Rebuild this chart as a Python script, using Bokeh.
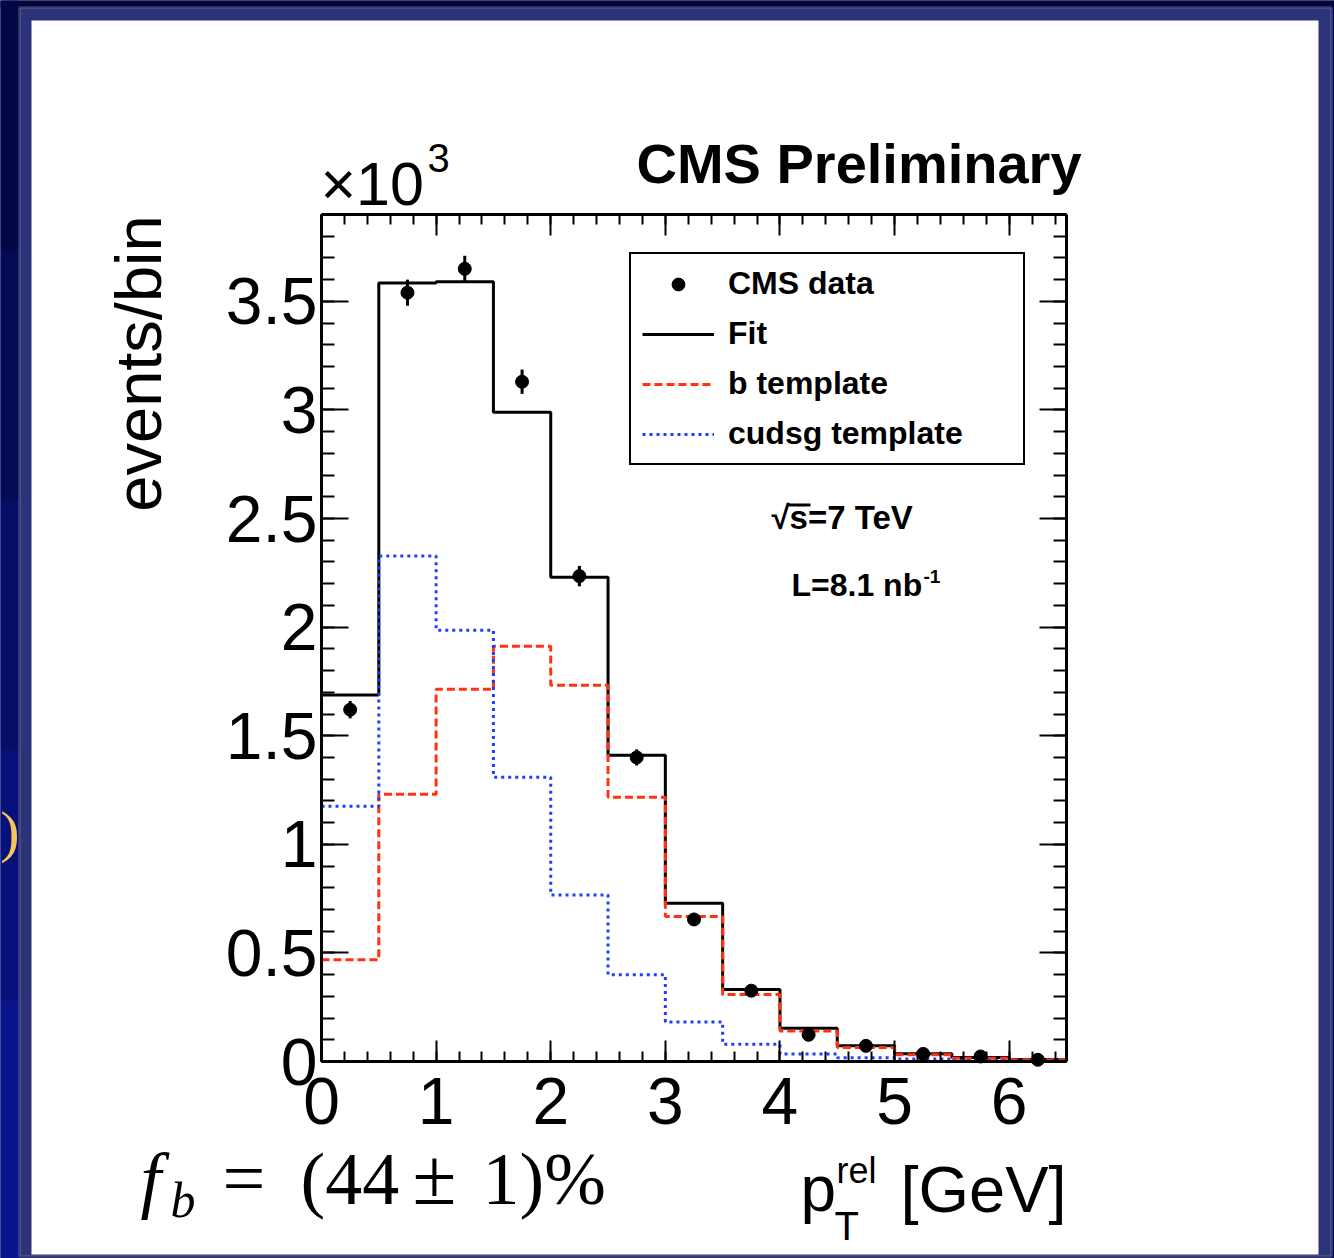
import math
from bokeh.plotting import figure
from bokeh.models import (SingleIntervalTicker, LinearAxis, Label, BoxAnnotation,
                          Legend, LegendItem, CustomJSTickFormatter, Range1d)
from bokeh.embed import file_html
from bokeh.resources import INLINE

# ---------------- data (values in units of 10^3 events / bin) ----------------
bin_lo = [0.0, 0.5, 1.0, 1.5, 2.0, 2.5, 3.0, 3.5, 4.0, 4.5, 5.0, 5.5, 6.0]
bin_width = 0.5
data_y = [1.62, 3.54, 3.65, 3.13, 2.235, 1.40, 0.654, 0.326, 0.123, 0.072, 0.035, 0.023, 0.008]
data_err = [0.040, 0.060, 0.060, 0.056, 0.047, 0.037, 0.026, 0.018, 0.011, 0.008, 0.006, 0.005, 0.003]
fit_y = [1.687, 3.585, 3.59, 2.99, 2.23, 1.41, 0.729, 0.331, 0.153, 0.073, 0.036, 0.018, 0.009]
b_tmpl_y = [0.468, 1.23, 1.714, 1.912, 1.733, 1.217, 0.668, 0.308, 0.141, 0.065, 0.031, 0.015, 0.008]
cudsg_tmpl_y = [1.175, 2.327, 1.986, 1.309, 0.767, 0.40, 0.182, 0.080, 0.035, 0.017, 0.011, 0.005, 0.002]
x_min, x_max = 0.0, 6.5
y_min, y_max = 0.0, 3.9
legend_labels = ["CMS data", "Fit", "b template", "cudsg template"]

# ---------------- layout constants (canvas pixels) ----------------
W, H = 1334, 1258
FL, FT, FW, FH = 321, 214, 745, 847      # the histogram box inside the canvas
FB = FT + FH
FONT = "Liberation Sans"
SERIF = "Liberation Serif"
RED = "#ff3311"
BLUE = "#1f3fff"
BASE_SHIFT = 0.36   # compensation for how alphabetic baselines are placed

kx = FW / (x_max - x_min)
ky = FH / (y_max - y_min)
p = figure(width=W, height=H,
           x_range=Range1d(x_min - FL / kx, x_max + (W - FL - FW) / kx),
           y_range=Range1d(y_min - (H - FB) / ky, y_max + FT / ky),
           x_axis_type=None, y_axis_type=None,
           output_backend="svg", toolbar_location=None, tools="")
p.min_border = 0
p.min_border_left = 0
p.min_border_right = 0
p.min_border_top = 0
p.min_border_bottom = 0
p.border_fill_color = "#040b5c"
p.background_fill_color = "#040b5c"
p.outline_line_color = None


def box(x0, y0, x1, y1, color, line=None, lw=0, level="underlay"):
    b = BoxAnnotation(left=x0, right=x1, top=H - y0, bottom=H - y1,
                      left_units="screen", right_units="screen",
                      top_units="screen", bottom_units="screen",
                      fill_color=color, fill_alpha=1.0,
                      line_color=line, line_width=lw, level=level)
    p.add_layout(b)


# slide background (dark navy getting bluer towards the bottom)
box(-10, -10, W + 10, 7, "#02063c")
box(-10, 0, 19, 250, "#030844")
box(-10, 250, 19, 500, "#040a55")
box(-10, 500, 19, 750, "#060e68")
box(-10, 750, 19, 1000, "#08117a")
box(-10, 1000, 19, H + 10, "#0a148a")
box(19, 7, 1331, 1256, "#2d3378", line="#8c8ca0", lw=3)
box(31, 20, 1318, 1254, "white")

# ---------------- axes (ROOT style, ticks inside on all sides) ----------------
xt = SingleIntervalTicker(interval=1, num_minor_ticks=5)
yt = SingleIntervalTicker(interval=0.5, num_minor_ticks=5)


def style(ax, tin, tmin, show):
    ax.axis_line_width = 3
    ax.axis_line_color = "black"
    ax.major_tick_in = tin
    ax.major_tick_out = 0
    ax.minor_tick_in = tmin
    ax.minor_tick_out = 0
    ax.major_tick_line_width = 2
    ax.minor_tick_line_width = 2
    ax.major_tick_line_color = "black"
    ax.minor_tick_line_color = "black"
    ax.major_label_text_font = FONT
    ax.major_label_text_font_size = "66px"
    ax.major_label_text_color = "black"
    if not show:
        ax.formatter = CustomJSTickFormatter(code="return '';")


xa = LinearAxis(ticker=xt, fixed_location=y_min, bounds=(x_min, x_max))
style(xa, 21, 10, True)
xa.major_label_standoff = 16
p.add_layout(xa, "below")

ya = LinearAxis(ticker=yt, fixed_location=x_min, bounds=(y_min, y_max))
style(ya, 27, 13, True)
ya.major_label_standoff = 4
ya.formatter = CustomJSTickFormatter(code="return (Math.round(tick*10)/10).toString();")
p.add_layout(ya, "left")

ra = LinearAxis(ticker=yt, fixed_location=x_max, bounds=(y_min, y_max))
style(ra, 27, 13, False)
p.add_layout(ra, "right")

ta = LinearAxis(ticker=xt, fixed_location=y_max, bounds=(x_min, x_max))
style(ta, 21, 10, False)
p.add_layout(ta, "above")

# ---------------- glyphs ----------------
xs = bin_lo + [bin_lo[-1] + bin_width]
centers = [x + bin_width / 2 for x in bin_lo]

r_fit = p.step(xs, fit_y + [fit_y[-1]], mode="after", line_color="black", line_width=3)
r_b = p.step(xs, b_tmpl_y + [b_tmpl_y[-1]], mode="after", line_color=RED,
             line_width=3, line_dash="8 4")
r_c = p.step(xs, cudsg_tmpl_y + [cudsg_tmpl_y[-1]], mode="after", line_color=BLUE,
             line_width=3, line_dash="3 4")
lo = [y - e for y, e in zip(data_y, data_err)]
hi = [y + e for y, e in zip(data_y, data_err)]
p.segment(centers, lo, centers, hi, line_color="black", line_width=3)
r_data = p.scatter(centers, data_y, size=13, fill_color="black", line_color="black")

legend = Legend(items=[LegendItem(label=legend_labels[0], renderers=[r_data]),
                       LegendItem(label=legend_labels[1], renderers=[r_fit]),
                       LegendItem(label=legend_labels[2], renderers=[r_b]),
                       LegendItem(label=legend_labels[3], renderers=[r_c])],
                location=(629, H - 465), orientation="vertical",
                label_text_font=FONT, label_text_font_size="32px",
                label_text_font_style="bold", label_text_color="black",
                glyph_width=72, glyph_height=32, label_height=32, label_width=284,
                label_standoff=14, spacing=13, padding=11, margin=0,
                border_line_color="black", border_line_width=2, border_line_alpha=1.0,
                background_fill_color="white", background_fill_alpha=1.0)
p.add_layout(legend)


# ---------------- texts ----------------
def lab(text, cx, cy, size, font=FONT, style="normal", align="left",
        color="black", angle=0.0):
    shift = BASE_SHIFT * size
    if angle:
        x, y = cx - shift, H - cy
    else:
        x, y = cx, H - (cy - shift)
    p.add_layout(Label(x=x, y=y, x_units="screen", y_units="screen",
                       text=text, text_font=font, text_font_size=f"{size}px",
                       text_font_style=style, text_align=align,
                       text_baseline="alphabetic", text_color=color, angle=angle))


lab("CMS Preliminary", 636, 183, 56, style="bold")
lab("×10", 320, 205, 61)
lab("3", 427, 172, 40)
lab("events/bin", 161, 363, 65, align="center", angle=math.pi / 2)
lab("√s=7 TeV", 771, 529, 33, style="bold")
box(788, 503, 810, 506, "black", level="annotation")   # overline of the root
lab("L=8.1 nb", 791, 596, 32, style="bold")
lab("-1", 923, 583, 19, style="bold")

# x-axis title
lab("p", 800, 1212, 64)
lab("rel", 836, 1183, 36)
lab("T", 834, 1240, 40)
lab("[GeV]", 900, 1212, 65)

# fit result
lab("f", 140, 1205, 74, font=SERIF, style="italic")
lab("b", 170, 1217, 50, font=SERIF, style="italic")
lab("=", 222, 1205, 76, font=SERIF)
lab("(44", 300, 1205, 74, font=SERIF)
lab("±", 412, 1205, 80, font=SERIF)
lab("1)%", 482, 1205, 74, font=SERIF)

# slide fragment at the left edge
lab("a)", 19, 852, 58, font=SERIF, align="right", color="#f5c65c")

open("out.html", "w").write(file_html(p, INLINE))
